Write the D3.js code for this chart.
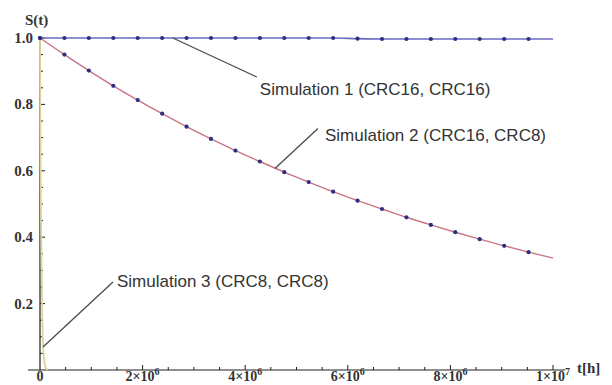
<!DOCTYPE html>
<html>
<head>
<meta charset="utf-8">
<script src="https://cdn.jsdelivr.net/npm/d3@7"></script>
<style>
  body { margin: 0; background: #fff; }
  svg { display: block; }
</style>
</head>
<body>
<div id="chart"></div>
<script>
// sample times of the plotted points (hours)
var dotTimes = [0, 476000, 952000, 1429000, 1905000, 2381000, 2857000, 3333000, 3810000,
    4286000, 4762000, 5238000, 5714000, 6190000, 6667000, 7143000, 7619000, 8095000,
    8571000, 9048000, 9524000];
var endTime = 10000000;

// Simulation 1 (CRC16, CRC16)
var sim1Values = [1.0, 1.0, 1.0, 1.0, 1.0, 1.0, 1.0, 1.0, 1.0, 1.0, 1.0, 1.0, 1.0,
    0.998, 0.997, 0.997, 0.997, 0.997, 0.997, 0.997, 0.997];
var sim1End = 0.997;

// Simulation 2 (CRC16, CRC8)
var sim2Values = [1.0, 0.950, 0.902, 0.856, 0.813, 0.772, 0.733, 0.696, 0.661, 0.628,
    0.596, 0.566, 0.537, 0.510, 0.485, 0.460, 0.437, 0.415, 0.394, 0.374, 0.355];
var sim2End = 0.337;

// Simulation 3 (CRC8, CRC8)
var sim3Times = [0, 10000, 20000, 40000, 60000, 80000, 100000, 120000, 160000];
var sim3Values = [1.0, 0.68, 0.45, 0.2, 0.075, 0.03, 0.012, 0.005, 0.0];

var labels = ["Simulation 1 (CRC16, CRC16)", "Simulation 2 (CRC16, CRC8)", "Simulation 3 (CRC8, CRC8)"];

var yTicks = [0.2, 0.4, 0.6, 0.8, 1.0];
var xTicks = [0, 2000000, 4000000, 6000000, 8000000, 10000000];
var xTickBase = ["0", "2\u00d710", "4\u00d710", "6\u00d710", "8\u00d710", "1\u00d710"];
var xTickExp = ["", "6", "6", "6", "6", "7"];

var width = 612, height = 385;

var svg = d3.select("#chart").append("svg")
    .attr("width", width)
    .attr("height", height);

var x = d3.scaleLinear().domain([0, endTime]).range([40, 553]);
var y = d3.scaleLinear().domain([0, 1]).range([370, 38]);

var axisColor = "#1e1e1e";
var serif = "'Liberation Serif', 'DejaVu Serif', serif";
var sans = "'Liberation Sans', Arial, sans-serif";

// axes lines
svg.append("line")
    .attr("x1", 28).attr("x2", 565)
    .attr("y1", y(0)).attr("y2", y(0))
    .attr("stroke", axisColor).attr("stroke-width", 1.2);
svg.append("line")
    .attr("x1", x(0)).attr("x2", x(0))
    .attr("y1", y(0)).attr("y2", 36)
    .attr("stroke", axisColor).attr("stroke-width", 1.2);

// y ticks (pointing right, into the plot)
var yMinor = d3.range(0.05, 1.001, 0.05);
svg.selectAll(".ytick")
    .data(yMinor)
    .enter().append("line")
    .attr("x1", x(0))
    .attr("x2", d => x(0) + (Math.abs(d * 5 - Math.round(d * 5)) < 1e-6 ? 5 : 3))
    .attr("y1", d => y(d)).attr("y2", d => y(d))
    .attr("stroke", axisColor).attr("stroke-width", 1);

svg.selectAll(".ylab")
    .data(yTicks)
    .enter().append("text")
    .attr("x", 33)
    .attr("y", d => y(d) + 5)
    .attr("text-anchor", "end")
    .attr("font-family", serif)
    .attr("font-size", 15)
    .attr("font-weight", "bold")
    .attr("fill", "#333")
    .text(d => d3.format(".1f")(d));

// x ticks (pointing up)
var xMinor = d3.range(500000, 10000001, 500000);
svg.selectAll(".xtick")
    .data(xMinor)
    .enter().append("line")
    .attr("x1", d => x(d)).attr("x2", d => x(d))
    .attr("y1", y(0))
    .attr("y2", d => y(0) - (d % 2000000 === 0 ? 5 : 3))
    .attr("stroke", axisColor).attr("stroke-width", 1);

var xl = svg.selectAll(".xlab")
    .data(xTicks)
    .enter().append("text")
    .attr("x", d => x(d))
    .attr("y", 381)
    .attr("text-anchor", "middle")
    .attr("font-family", serif)
    .attr("font-size", 14)
    .attr("font-weight", "bold")
    .attr("fill", "#333");
xl.append("tspan").text((d, i) => xTickBase[i]);
xl.append("tspan")
    .attr("dy", -6)
    .attr("font-size", 10)
    .text((d, i) => xTickExp[i]);

// axis titles
svg.append("text")
    .attr("x", 25).attr("y", 25)
    .attr("font-family", serif).attr("font-size", 15)
    .attr("font-weight", "bold")
    .attr("fill", "#333")
    .text("S(t)");
svg.append("text")
    .attr("x", 577).attr("y", 373)
    .attr("font-family", serif).attr("font-size", 15)
    .attr("font-weight", "bold")
    .attr("fill", "#333")
    .text("t[h]");

// data
var sim1 = dotTimes.map((t, i) => [t, sim1Values[i]]).concat([[endTime, sim1End]]);
var sim2 = dotTimes.map((t, i) => [t, sim2Values[i]]).concat([[endTime, sim2End]]);
var sim3 = sim3Times.map((t, i) => [t, sim3Values[i]]);

var line = d3.line()
    .x(d => x(d[0]))
    .y(d => y(d[1]))
    .curve(d3.curveMonotoneX);

svg.append("path")
    .datum(sim3)
    .attr("fill", "none")
    .attr("stroke", "#ddd49a")
    .attr("stroke-width", 1.8)
    .attr("d", line);

svg.append("path")
    .datum(sim2)
    .attr("fill", "none")
    .attr("stroke", "#c97585")
    .attr("stroke-width", 1.4)
    .attr("d", line);

svg.append("path")
    .datum(sim1)
    .attr("fill", "none")
    .attr("stroke", "#6a6ac2")
    .attr("stroke-width", 1.6)
    .attr("d", line);

[sim1Values, sim2Values].forEach(vals => {
    svg.append("g").selectAll("circle")
        .data(dotTimes.map((t, i) => [t, vals[i]]))
        .enter().append("circle")
        .attr("cx", d => x(d[0]))
        .attr("cy", d => y(d[1]))
        .attr("r", 2.1)
        .attr("fill", "#2f2f82");
});

// annotations: leader line from a point on the curve to the label
var anchors = [
    { t: 2590000, s: 1.0, dx: 84, dy: 39, tx: 87, ty: 57 },
    { t: 4580000, s: 0.607, dx: 43, dy: -40, tx: 50, ty: -27 },
    { t: 58000, s: 0.069, dx: 70, dy: -65, tx: 74, ty: -60 }
];

anchors.forEach((a, i) => {
    var ax = x(a.t), ay = y(a.s);
    svg.append("line")
        .attr("x1", ax).attr("y1", ay)
        .attr("x2", ax + a.dx).attr("y2", ay + a.dy)
        .attr("stroke", "#4a4a4a")
        .attr("stroke-width", 1.3);
    svg.append("text")
        .attr("x", ax + a.tx).attr("y", ay + a.ty)
        .attr("font-family", sans)
        .attr("font-size", 17)
        .attr("fill", "#333")
        .text(labels[i]);
});
</script>
</body>
</html>
